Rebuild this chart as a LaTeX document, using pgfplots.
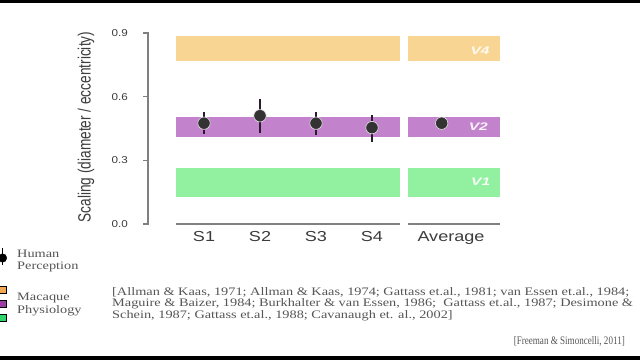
\documentclass[border=0pt]{standalone}
\usepackage{pgfplots}
\pgfplotsset{compat=1.18}
\usepackage{graphicx}
\usepackage{fontspec}
\setmainfont{Liberation Sans}
\newfontfamily\tms{Liberation Serif}
\definecolor{v4c}{HTML}{F8D592}
\definecolor{v2c}{HTML}{C383CC}
\definecolor{v1c}{HTML}{92F1A0}
\definecolor{lo}{HTML}{F2A955}
\definecolor{lp}{HTML}{9A3EA6}
\definecolor{lg}{HTML}{2FD46B}
\definecolor{axg}{rgb}{0.5,0.5,0.5}
\definecolor{txg}{HTML}{3C3C3C}
\definecolor{dotc}{HTML}{333333}
\definecolor{barc}{HTML}{2A1A2E}
\definecolor{cit}{HTML}{555555}
\newcommand{\sr}[1]{\scalebox{1.25}[1]{\tms\fontsize{11.5}{12}\selectfont #1}}
\newcommand{\sxl}[1]{\scalebox{1.25}[1]{\fontsize{14.5}{15}\selectfont #1}}
\newcommand{\yt}[1]{\scalebox{1.17}[1]{\fontsize{10}{10}\selectfont #1}}
\tikzset{ytl/.style={anchor=east, inner sep=0pt, text=txg, xshift=-20bp},
         xtl/.style={anchor=north, inner sep=0pt, text=txg, yshift=-7.5bp}}
\begin{document}
\begin{tikzpicture}
\fill[white] (0,0) rectangle (640bp,360bp);
\path[use as bounding box] (0,0) rectangle (640bp,360bp);
\fill[black] (0,357bp) rectangle (640bp,360bp);
\fill[black] (0,0) rectangle (640bp,4bp);

% left panel
\begin{axis}[
  scale only axis, width=252bp, height=191bp,
  at={(148bp,136bp)}, anchor=south west,
  xmin=-1, xmax=3.5, ymin=0, ymax=0.9,
  axis x line=none, axis y line=none,
  ytick={0,0.3,0.6,0.9}, xtick={0,1,2,3},
  tick style={draw=none},
  clip=false,
]
% y axis line and ticks (thin filled strips)
\addplot[fill=axg, draw=none] coordinates {(-1.009,-0.0024) (-0.991,-0.0024) (-0.991,0.9024) (-1.009,0.9024)} -- cycle;
\addplot[fill=axg, draw=none] coordinates {(-1.09,-0.0024) (-1,-0.0024) (-1,0.0024) (-1.09,0.0024)} -- cycle;
\addplot[fill=axg, draw=none] coordinates {(-1.09,0.2976) (-1,0.2976) (-1,0.3024) (-1.09,0.3024)} -- cycle;
\addplot[fill=axg, draw=none] coordinates {(-1.09,0.5976) (-1,0.5976) (-1,0.6024) (-1.09,0.6024)} -- cycle;
\addplot[fill=axg, draw=none] coordinates {(-1.09,0.8976) (-1,0.8976) (-1,0.9024) (-1.09,0.9024)} -- cycle;
\addplot[fill=v4c, draw=none] coordinates {(-0.5,0.770) (3.5,0.770) (3.5,0.886) (-0.5,0.886)} -- cycle;
\addplot[fill=v2c, draw=none] coordinates {(-0.5,0.411) (3.5,0.411) (3.5,0.506) (-0.5,0.506)} -- cycle;
\addplot[fill=v1c, draw=none] coordinates {(-0.5,0.126) (3.5,0.126) (3.5,0.265) (-0.5,0.265)} -- cycle;
\addplot[fill=axg, draw=none] coordinates {(-0.5,-0.0024) (3.5,-0.0024) (3.5,0.0024) (-0.5,0.0024)} -- cycle;
\addplot[only marks, mark=*, mark size=6.2bp,
  mark options={fill=dotc, draw=white!80!gray, line width=0.6bp},
  error bars/.cd, y dir=both, y explicit, error mark=none,
  error bar style={line width=2bp, color=barc}]
  coordinates {
  (0,0.475) += (0,0.051) -= (0,0.051)
  (1,0.510) += (0,0.079) -= (0,0.080)
  (2,0.475) += (0,0.051) -= (0,0.056)
  (3,0.454) += (0,0.060) -= (0,0.068)
  };
% tick labels
\node[ytl] at (axis cs:-1,0) {\yt{0.0}};
\node[ytl] at (axis cs:-1,0.3) {\yt{0.3}};
\node[ytl] at (axis cs:-1,0.6) {\yt{0.6}};
\node[ytl] at (axis cs:-1,0.9) {\yt{0.9}};
\node[xtl] at (axis cs:0,0) {\sxl{S1}};
\node[xtl] at (axis cs:1,0) {\sxl{S2}};
\node[xtl] at (axis cs:2,0) {\sxl{S3}};
\node[xtl] at (axis cs:3,0) {\sxl{S4}};
\end{axis}

% right panel
\begin{axis}[
  scale only axis, width=92bp, height=191bp,
  at={(408bp,136bp)}, anchor=south west,
  xmin=0, xmax=1, ymin=0, ymax=0.9,
  axis x line=none, axis y line=none,
  tick style={draw=none},
  clip=false,
]
\addplot[fill=v4c, draw=none] coordinates {(0,0.770) (1,0.770) (1,0.886) (0,0.886)} -- cycle;
\addplot[fill=v2c, draw=none] coordinates {(0,0.411) (1,0.411) (1,0.506) (0,0.506)} -- cycle;
\addplot[fill=v1c, draw=none] coordinates {(0,0.126) (1,0.126) (1,0.265) (0,0.265)} -- cycle;
\addplot[fill=axg, draw=none] coordinates {(0,-0.0024) (1,-0.0024) (1,0.0024) (0,0.0024)} -- cycle;
\addplot[only marks, mark=*, mark size=6.2bp,
  mark options={fill=dotc, draw=white!80!gray, line width=0.6bp}]
  coordinates {(0.366,0.475)};
\node[xtl] at (axis cs:0.467,0) {\sxl{Average}};
\node[text=white, opacity=0.9] at (axis cs:0.783,0.818) {\resizebox{19bp}{\height}{\fontsize{11}{11}\selectfont\bfseries\itshape V4}};
\node[text=white, opacity=0.9] at (axis cs:0.765,0.457) {\resizebox{19bp}{\height}{\fontsize{11}{11}\selectfont\bfseries\itshape V2}};
\node[text=white, opacity=0.9] at (axis cs:0.790,0.198) {\resizebox{19bp}{\height}{\fontsize{11}{11}\selectfont\bfseries\itshape V1}};
\end{axis}

% legend markers
\begin{axis}[
  scale only axis, width=110bp, height=110bp,
  at={(0bp,0bp)}, anchor=south west,
  xmin=0, xmax=110, ymin=0, ymax=110,
  hide axis, clip=false,
]
\addplot[only marks, mark=*, mark size=4.3bp, mark options={fill=black, draw=black},
  error bars/.cd, y dir=both, y explicit, error mark=none,
  error bar style={line width=1.6bp, color=black}]
  coordinates {(2.5,102) += (0,10) -= (0,7)};
\addplot[only marks, mark=square*, mark size=3.3bp, mark options={fill=lo, draw=none}] coordinates {(2.5,70)};
\addplot[only marks, mark=square*, mark size=3.3bp, mark options={fill=lp, draw=none}] coordinates {(2.5,56.5)};
\addplot[only marks, mark=square*, mark size=3.3bp, mark options={fill=lg, draw=none}] coordinates {(2.5,42.5)};
\end{axis}

% y label
\node[rotate=90, text=txg, inner sep=0pt] at (86bp,233bp) {\scalebox{1}[1.3]{\fontsize{13.7}{14}\selectfont Scaling (diameter / eccentricity)}};

% legend texts
\node[anchor=west, inner sep=0pt, text=cit] at (17bp,106bp) {\sr{Human}};
\node[anchor=west, inner sep=0pt, text=cit] at (17bp,93bp) {\sr{Perception}};
\node[anchor=west, inner sep=0pt, text=cit] at (17bp,62bp) {\sr{Macaque}};
\node[anchor=west, inner sep=0pt, text=cit] at (17bp,49bp) {\sr{Physiology}};

% citations
\node[anchor=west, inner sep=0pt, text=cit] at (112bp,68bp) {\sr{[Allman \& Kaas, 1971; Allman \& Kaas, 1974; Gattass et.al., 1981; van Essen et.al., 1984;}};
\node[anchor=west, inner sep=0pt, text=cit] at (112bp,56.5bp) {\sr{Maguire \& Baizer, 1984; Burkhalter \& van Essen, 1986; \ Gattass et.al., 1987; Desimone \&}};
\node[anchor=west, inner sep=0pt, text=cit] at (112bp,44bp) {\sr{Schein, 1987; Gattass et.al., 1988; Cavanaugh et. al., 2002]}};
\node[anchor=east, inner sep=0pt, text=cit] at (625bp,19bp) {\resizebox{111bp}{\height}{\tms\fontsize{11.5}{12}\selectfont [Freeman \& Simoncelli, 2011]}};
\end{tikzpicture}
\end{document}
